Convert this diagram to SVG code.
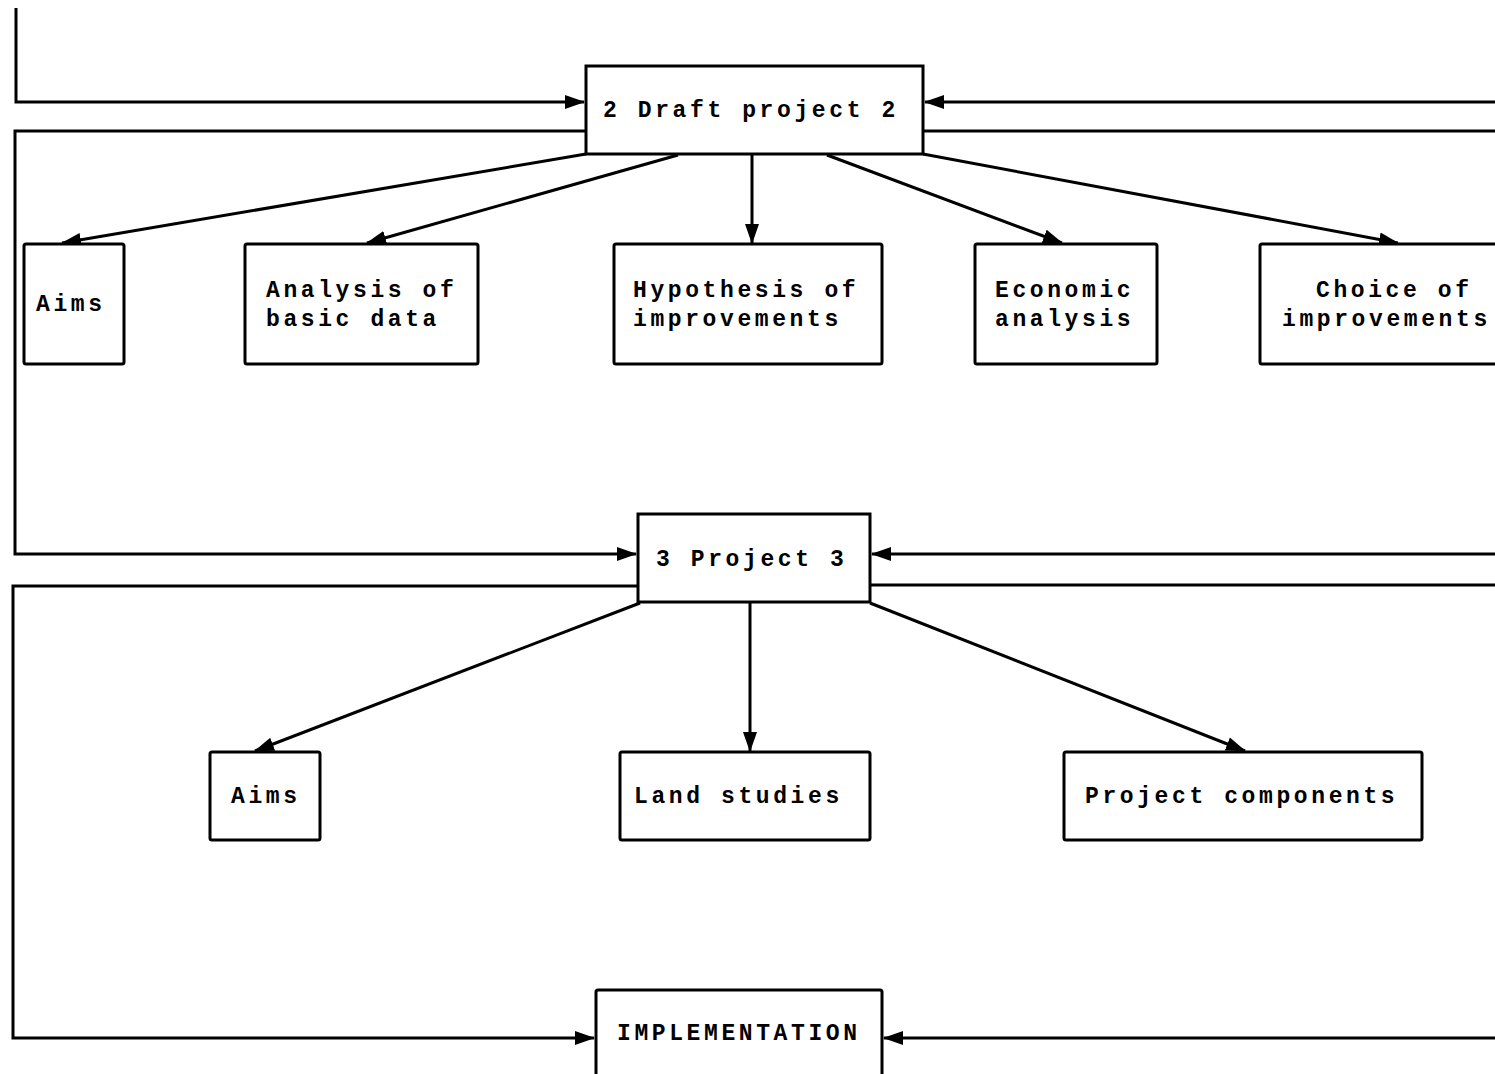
<svg xmlns="http://www.w3.org/2000/svg" width="1495" height="1074" viewBox="0 0 1495 1074">
<style>
.box{fill:#fff;stroke:#000;stroke-width:3}
.ln{fill:none;stroke:#000;stroke-width:3}
.t{font-family:"Liberation Mono","DejaVu Sans Mono",monospace;font-size:23px;font-weight:bold;letter-spacing:3.6px;fill:#000}
</style>
<defs>
<marker id="ah" viewBox="0 0 20 16" refX="19" refY="8" markerWidth="20" markerHeight="16" markerUnits="userSpaceOnUse" orient="auto">
<path d="M0,1 L20,8 L0,15 Z" fill="#000"/>
</marker>
</defs>
<g id="connectors">
<polyline class="ln" points="16,8 16,102 584,102" marker-end="url(#ah)"/>
<line class="ln" x1="1495" y1="102" x2="925" y2="102" marker-end="url(#ah)"/>
<polyline class="ln" points="586,131 15,131 15,554 636,554" marker-end="url(#ah)"/>
<line class="ln" x1="923" y1="131" x2="1495" y2="131"/>
<line class="ln" x1="1495" y1="554" x2="872" y2="554" marker-end="url(#ah)"/>
<polyline class="ln" points="638,586 13,586 13,1038 594,1038" marker-end="url(#ah)"/>
<line class="ln" x1="870" y1="585" x2="1495" y2="585"/>
<line class="ln" x1="1495" y1="1038" x2="884" y2="1038" marker-end="url(#ah)"/>
<line class="ln" x1="586" y1="154" x2="62" y2="243" marker-end="url(#ah)"/>
<line class="ln" x1="678" y1="155" x2="367" y2="243" marker-end="url(#ah)"/>
<line class="ln" x1="752" y1="155" x2="752" y2="243" marker-end="url(#ah)"/>
<line class="ln" x1="827" y1="155" x2="1062" y2="243" marker-end="url(#ah)"/>
<line class="ln" x1="923" y1="154" x2="1398" y2="243" marker-end="url(#ah)"/>
<line class="ln" x1="640" y1="603" x2="255" y2="751" marker-end="url(#ah)"/>
<line class="ln" x1="750" y1="603" x2="750" y2="751" marker-end="url(#ah)"/>
<line class="ln" x1="870" y1="603" x2="1245" y2="751" marker-end="url(#ah)"/>
</g>
<g id="draft2"><rect class="box" x="586" y="66" width="337" height="88"/><text class="t" x="603" y="117">2 Draft project 2</text></g>
<g id="aims1"><rect class="box" x="24" y="244" width="100" height="120" rx="2"/><text class="t" x="36" y="311">Aims</text></g>
<g id="analysis"><rect class="box" x="245" y="244" width="233" height="120" rx="2"/><text class="t" x="266" y="297">Analysis of</text><text class="t" x="266" y="326">basic data</text></g>
<g id="hypothesis"><rect class="box" x="614" y="244" width="268" height="120" rx="2"/><text class="t" x="633" y="297">Hypothesis of</text><text class="t" x="633" y="326">improvements</text></g>
<g id="economic"><rect class="box" x="975" y="244" width="182" height="120" rx="2"/><text class="t" x="995" y="297">Economic</text><text class="t" x="995" y="326">analysis</text></g>
<g id="choice"><rect class="box" x="1260" y="244" width="240" height="120" rx="2"/><text class="t" x="1316" y="297">Choice of</text><text class="t" x="1282" y="326">improvements</text></g>
<g id="project3"><rect class="box" x="638" y="514" width="232" height="88"/><text class="t" x="656" y="566">3 Project 3</text></g>
<g id="aims2"><rect class="box" x="210" y="752" width="110" height="88" rx="2"/><text class="t" x="231" y="803">Aims</text></g>
<g id="land"><rect class="box" x="620" y="752" width="250" height="88" rx="2"/><text class="t" x="634" y="803">Land studies</text></g>
<g id="components"><rect class="box" x="1064" y="752" width="358" height="88" rx="2"/><text class="t" x="1085" y="803">Project components</text></g>
<g id="implementation"><rect class="box" x="596" y="990" width="286" height="100" rx="2"/><text class="t" x="617" y="1040">IMPLEMENTATION</text></g>
</svg>
